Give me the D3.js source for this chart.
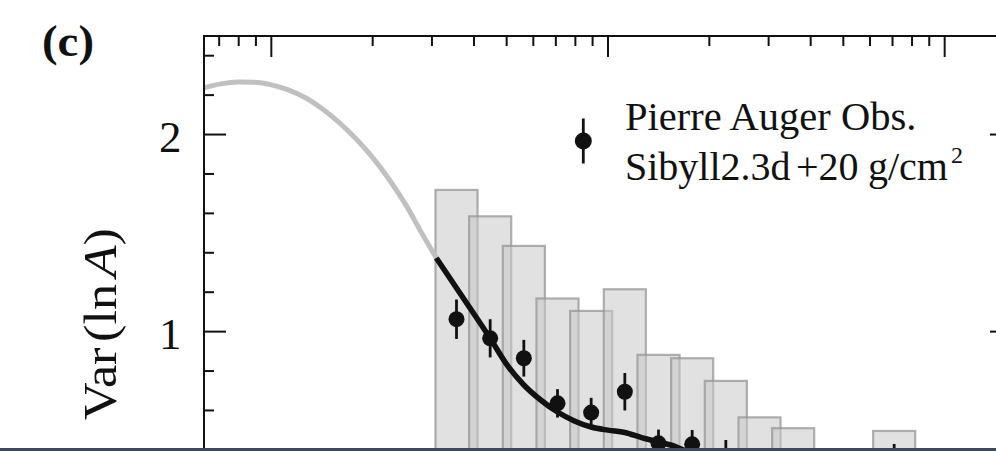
<!DOCTYPE html>
<html>
<head>
<meta charset="utf-8">
<script src="https://cdn.jsdelivr.net/npm/d3@7/dist/d3.min.js"></script>
<style>
  html, body { margin: 0; padding: 0; background: #fff; }
  svg { display: block; }
  text { font-family: "Liberation Serif", "Times New Roman", serif; fill: #111; }
</style>
</head>
<body>
<svg id="chart" width="996" height="451"></svg>
<script>
// log10(E/eV) bin centres of the simulated histogram and its Var(lnA) heights
const barLgE  = [18.55, 18.65, 18.75, 18.85, 18.95, 19.05, 19.15, 19.25, 19.35, 19.45, 19.55, 19.85];
const barVar  = [1.719, 1.585, 1.435, 1.168, 1.105, 1.215, 0.882, 0.865, 0.750, 0.565, 0.510, 0.496];

// Measured points (Pierre Auger Obs.) with their statistical errors
const ptLgE   = [18.55, 18.65, 18.75, 18.85, 18.95, 19.05, 19.15, 19.25, 19.35, 19.85];
const ptVar   = [1.063, 0.966, 0.865, 0.636, 0.589, 0.695, 0.433, 0.428, 0.370, 0.330];
const ptErr   = [0.100, 0.097, 0.093, 0.072, 0.075, 0.095, 0.070, 0.073, 0.080, 0.100];

// Model curve: extrapolated part (grey) and fitted range (black)
const extrapLgE = [17.80, 17.85, 17.90, 17.95, 18.00, 18.05, 18.10, 18.15, 18.20, 18.25, 18.30, 18.35, 18.40, 18.45, 18.49];
const extrapVar = [2.237, 2.257, 2.267, 2.265, 2.252, 2.227, 2.188, 2.132, 2.063, 1.981, 1.885, 1.772, 1.642, 1.490, 1.374];
const fitLgE    = [18.49, 18.53, 18.59, 18.65, 18.70, 18.75, 18.80, 18.85, 18.90, 18.95, 19.00, 19.05, 19.10, 19.15, 19.20, 19.25, 19.30, 19.35];
const fitVar    = [1.374, 1.272, 1.120, 0.966, 0.831, 0.729, 0.653, 0.592, 0.547, 0.516, 0.500, 0.488, 0.462, 0.440, 0.417, 0.380, 0.340, 0.300];

const yTickLabels = ["1", "2"];
const legendLines = ["Pierre Auger Obs.", "Sibyll2.3d", "+20", "g/cm", "2"];

const svg = d3.select("#chart");
const plotL = 204, plotR = 1012, plotT = 36, plotB = 528.7;

const x = d3.scaleLog().domain([Math.pow(10, 17.8), Math.pow(10, 20.2)]).range([plotL, plotR]);
const y = d3.scaleLinear().domain([0, 2.5]).range([plotB, plotT]);
const E = lg => Math.pow(10, lg);
const barHalf = 0.0625; // half width of a bar in decades

// histogram bars (translucent so overlaps show through)
svg.append("g").selectAll("rect").data(barLgE).join("rect")
  .attr("x", (d) => x(E(d - barHalf)))
  .attr("width", (d) => x(E(d + barHalf)) - x(E(d - barHalf)))
  .attr("y", (d, i) => y(barVar[i]))
  .attr("height", (d, i) => y(0) - y(barVar[i]))
  .attr("fill", "rgba(200,200,200,0.55)")
  .attr("stroke", "rgba(150,150,150,0.75)")
  .attr("stroke-width", 2.2);

// model curve
const line = d3.line().x(d => x(E(d[0]))).y(d => y(d[1])).curve(d3.curveMonotoneX);
svg.append("path").datum(extrapLgE.map((d, i) => [d, extrapVar[i]]))
  .attr("d", line).attr("fill", "none").attr("stroke", "#c0c0c0").attr("stroke-width", 5);
svg.append("path").datum(fitLgE.map((d, i) => [d, fitVar[i]]))
  .attr("d", line).attr("fill", "none").attr("stroke", "#111").attr("stroke-width", 5.5);

// data points with error bars
const pts = svg.append("g");
pts.selectAll("line").data(ptLgE).join("line")
  .attr("x1", d => x(E(d))).attr("x2", d => x(E(d)))
  .attr("y1", (d, i) => y(ptVar[i] + ptErr[i]))
  .attr("y2", (d, i) => y(ptVar[i] - ptErr[i]))
  .attr("stroke", "#111").attr("stroke-width", 2.8);
pts.selectAll("circle").data(ptLgE).join("circle")
  .attr("cx", d => x(E(d))).attr("cy", (d, i) => y(ptVar[i]))
  .attr("r", 8).attr("fill", "#111");

// frame and axes (ticks pointing inwards)
const frame = svg.append("g").attr("stroke", "#111").attr("fill", "none");
frame.append("rect").attr("x", plotL).attr("y", plotT).attr("width", plotR - plotL).attr("height", plotB - plotT)
  .attr("stroke-width", 2);

const yTicks = d3.range(0, 2.5001, 0.2).map(v => +v.toFixed(1));
const isMajor = v => Math.abs(v - Math.round(v)) < 1e-6;
yTicks.forEach(v => {
  const len = isMajor(v) ? 22 : 10;
  frame.append("line").attr("x1", plotL).attr("x2", plotL + len).attr("y1", y(v)).attr("y2", y(v)).attr("stroke-width", 2);
  frame.append("line").attr("x1", plotR).attr("x2", plotR - len).attr("y1", y(v)).attr("y2", y(v)).attr("stroke-width", 2);
});

const xTicks = x.ticks().filter(t => t >= x.domain()[0] && t <= x.domain()[1]);
xTicks.forEach(t => {
  const lgt = Math.log10(t);
  const len = Math.abs(lgt - Math.round(lgt)) < 1e-6 ? 21 : 10;
  frame.append("line").attr("x1", x(t)).attr("x2", x(t)).attr("y1", plotT).attr("y2", plotT + len).attr("stroke-width", 2);
  frame.append("line").attr("x1", x(t)).attr("x2", x(t)).attr("y1", plotB).attr("y2", plotB - len).attr("stroke-width", 2);
});

// y tick labels
svg.append("g").selectAll("text").data(yTickLabels).join("text")
  .attr("x", 181.5).attr("y", d => y(+d) + 17.8)
  .attr("text-anchor", "end").attr("font-size", 45).text(d => d);

// y axis title: Var(ln A), drawn slightly elongated along its reading direction
const yt = svg.append("text").attr("transform", "translate(116,324) rotate(-90)")
  .attr("text-anchor", "middle").attr("font-size", 47)
  .attr("textLength", 192).attr("lengthAdjust", "spacingAndGlyphs");
yt.append("tspan").text("Var");
yt.append("tspan").attr("dx", 5).text("(ln");
yt.append("tspan").attr("dx", 6).attr("font-style", "italic").text("A");
yt.append("tspan").text(")");

// panel label
svg.append("text").attr("x", 42).attr("y", 55.5).attr("font-size", 44).attr("font-weight", "bold")
  .attr("textLength", 52).attr("lengthAdjust", "spacingAndGlyphs").text("(c)");

// legend
const leg = svg.append("g");
leg.append("line").attr("x1", 583.3).attr("x2", 583.3).attr("y1", 118.5).attr("y2", 163.5)
  .attr("stroke", "#111").attr("stroke-width", 2.8);
leg.append("circle").attr("cx", 583.3).attr("cy", 141).attr("r", 8.5).attr("fill", "#111");
leg.append("text").attr("x", 625).attr("y", 130).attr("font-size", 40.5).text(legendLines[0]);
const l2 = leg.append("text").attr("y", 180).attr("font-size", 40);
l2.append("tspan").attr("x", 625).text(legendLines[1]);
l2.append("tspan").attr("x", 796).text(legendLines[2]);
l2.append("tspan").attr("x", 868).text(legendLines[3]);
l2.append("tspan").attr("x", 951).attr("y", 163).attr("font-size", 24).text(legendLines[4]);

// page band along the lower edge
svg.append("rect").attr("x", 0).attr("y", 448).attr("width", 996).attr("height", 3).attr("fill", "#3b4b5e");
</script>
</body>
</html>
